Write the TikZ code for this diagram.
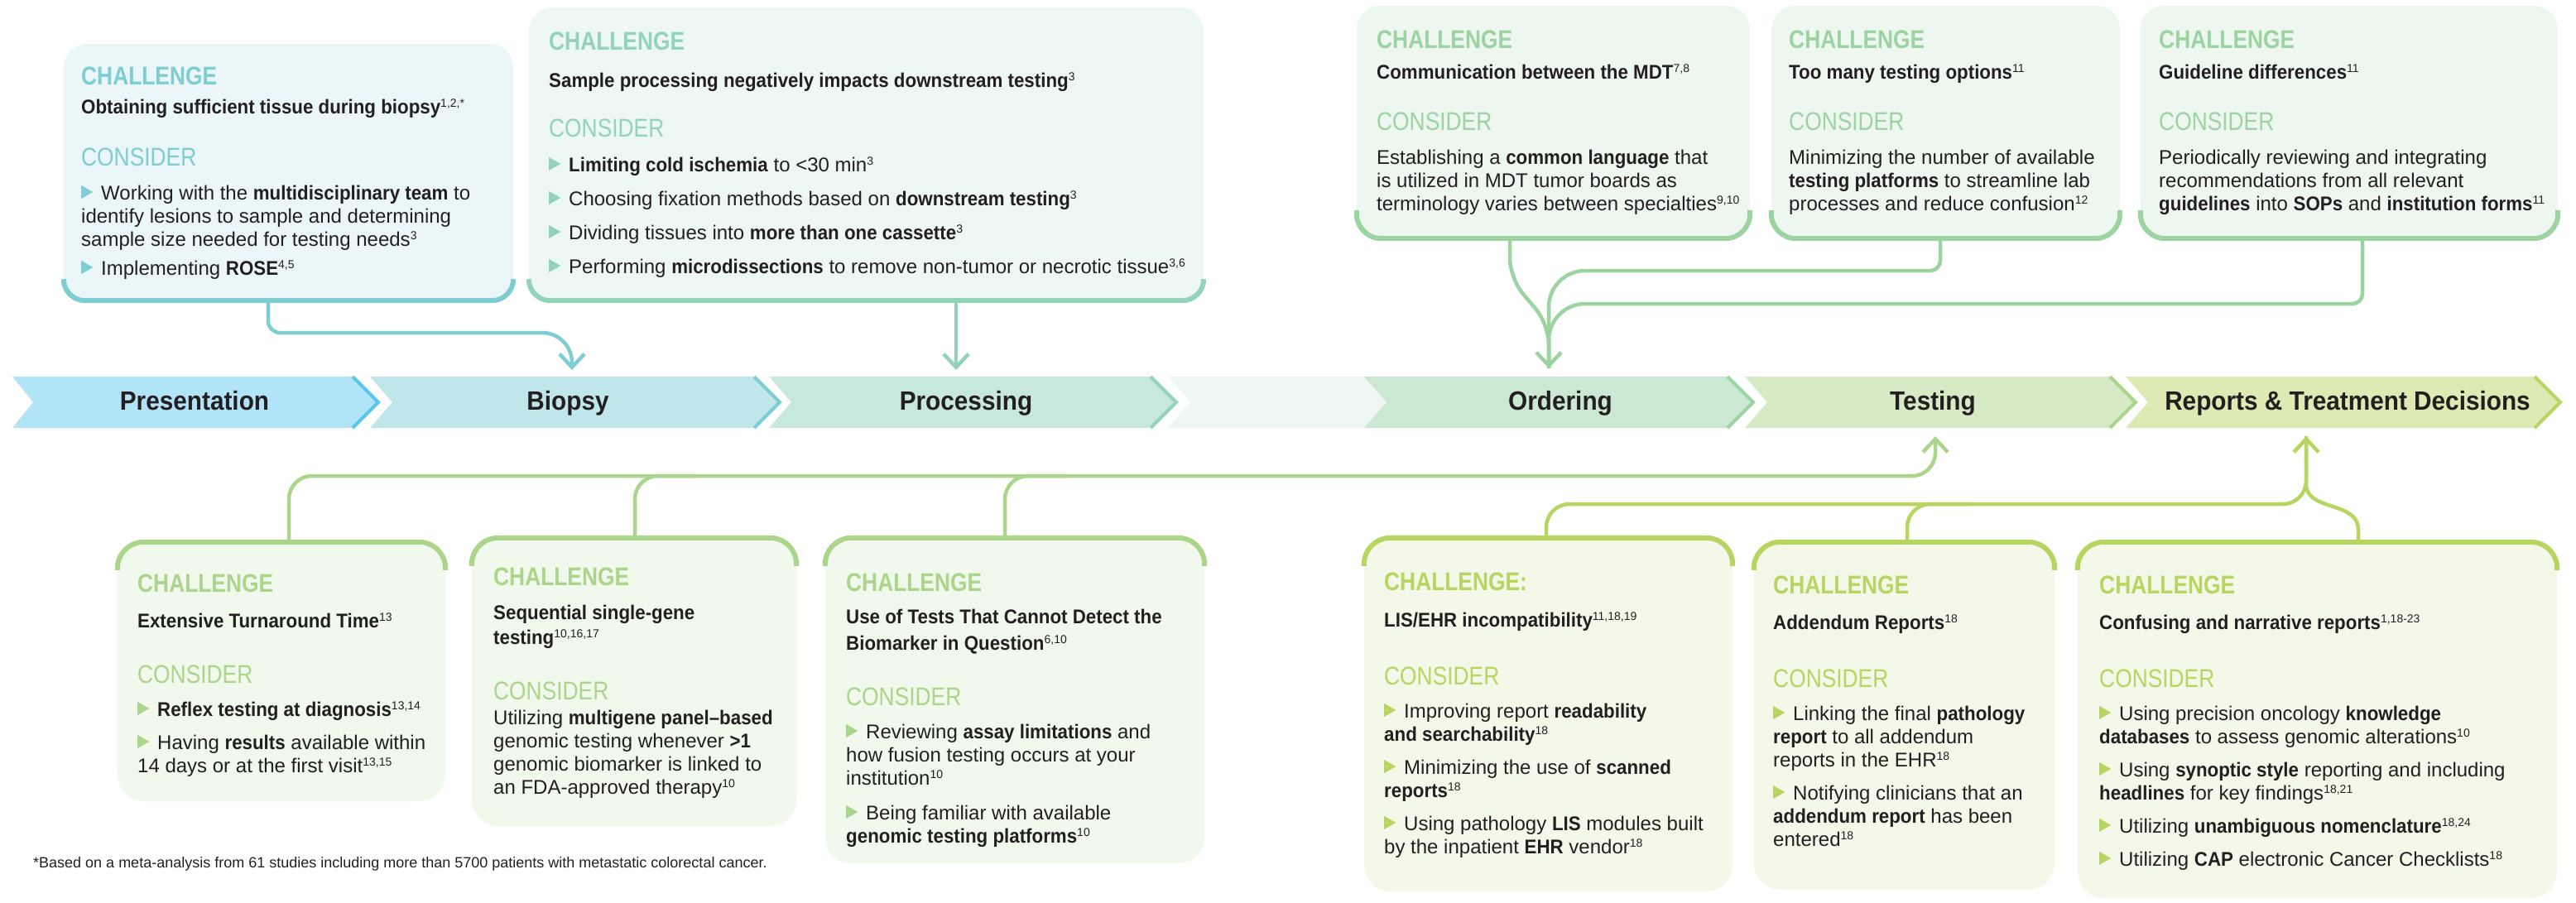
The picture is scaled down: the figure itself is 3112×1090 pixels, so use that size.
\documentclass[tikz,border=0pt]{standalone}
\usepackage{fontspec}
\setmainfont{Liberation Sans}[BoldFeatures={FakeStretch=0.93}]
\newfontfamily\hdfont{Liberation Sans}[FakeStretch=0.85]
\usepackage{tikz}
\usetikzlibrary{arrows.meta}

\definecolor{ink}{HTML}{231F20}
\definecolor{tealbg}{HTML}{EAF6F7}
\definecolor{tealln}{HTML}{7ECDD3}
\definecolor{mintbg}{HTML}{EDF7F3}
\definecolor{mintln}{HTML}{92D3B9}
\definecolor{grnbg}{HTML}{EEF7EF}
\definecolor{grnln}{HTML}{9BD4A1}
\definecolor{lgbg}{HTML}{F1F8EC}
\definecolor{lgln}{HTML}{AAD58B}
\definecolor{limebg}{HTML}{F3F8E8}
\definecolor{limeln}{HTML}{B7D661}
\definecolor{presbg}{HTML}{B2E4F7}
\definecolor{presln}{HTML}{5CC5EC}
\definecolor{biopbg}{HTML}{BFE6E9}
\definecolor{procbg}{HTML}{C7E8DD}
\definecolor{gapbg}{HTML}{EEF7F3}
\definecolor{ordbg}{HTML}{CBE8D3}
\definecolor{testbg}{HTML}{D6EAC5}
\definecolor{repbg}{HTML}{DEEAB3}

\newcommand{\rf}[1]{\raisebox{8pt}{\fontsize{14}{14}\mdseries\selectfont #1}}
\newcommand{\bul}[1]{\par\noindent\hangindent=24pt\hangafter=1\makebox[24pt][l]{\tikz[x=1pt,y=1pt,baseline=0pt]\fill[#1] (0,1)--(0,17)--(14,9)--cycle;}}
\newcommand{\blist}[2][12pt]{\parbox[t]{1000pt}{\fontsize{24}{28}\selectfont\raggedright\setlength{\parskip}{#1}#2}}

\begin{document}
\begin{tikzpicture}[x=1pt,y=-1pt,
  topbox/.style={inner sep=0pt, rounded corners=28pt},
  botbox/.style={inner sep=0pt, rounded corners=32pt},
  bord/.style={line width=6pt},
  conn/.style={line width=4.5pt},
  arrowend/.style={-{Straight Barb[length=16pt,width=30pt]}},
  chal/.style={anchor=base west, inner sep=0pt, font=\hdfont\bfseries\fontsize{31}{31}\selectfont},
  cons/.style={anchor=base west, inner sep=0pt, font=\hdfont\fontsize{31}{31}\selectfont},
  ttl/.style={anchor=base west, inner sep=0pt, text=ink, font=\bfseries\fontsize{24}{28}\selectfont},
  txt/.style={anchor=base west, inner sep=0pt, text=ink, font=\fontsize{24}{28}\selectfont},
  lab/.style={anchor=base, inner sep=0pt, text=ink, font=\bfseries\fontsize{32}{32}\selectfont}]
\useasboundingbox (0,0) rectangle (3112,1090);

\node[topbox, fill=tealbg, minimum width=543pt, minimum height=310pt] (tissue) at (348.5,208) {};
\node[topbox, fill=mintbg, minimum width=815pt, minimum height=354pt] (process) at (1046.5,186) {};
\node[topbox, fill=grnbg, minimum width=475pt, minimum height=281pt] (mdt) at (1876.5,147.5) {};
\node[topbox, fill=grnbg, minimum width=421pt, minimum height=281pt] (opts) at (2350.5,147.5) {};
\node[topbox, fill=grnbg, minimum width=504pt, minimum height=281pt] (guide) at (2838,147.5) {};

\draw[bord, tealln] ([yshift=26pt]tissue.south west) [rounded corners=26pt] -- (tissue.south west) -- (tissue.south east) -- ([yshift=26pt]tissue.south east);
\draw[bord, mintln] ([yshift=26pt]process.south west) [rounded corners=26pt] -- (process.south west) -- (process.south east) -- ([yshift=26pt]process.south east);
\draw[bord, grnln] ([yshift=34pt]mdt.south west) [rounded corners=30pt] -- (mdt.south west) -- (mdt.south east) -- ([yshift=34pt]mdt.south east);
\draw[bord, grnln] ([yshift=34pt]opts.south west) [rounded corners=30pt] -- (opts.south west) -- (opts.south east) -- ([yshift=34pt]opts.south east);
\draw[bord, grnln] ([yshift=34pt]guide.south west) [rounded corners=30pt] -- (guide.south west) -- (guide.south east) -- ([yshift=34pt]guide.south east);

\node[botbox, fill=lgbg, minimum width=396pt, minimum height=313pt] (tat) at (340,811.5) {};
\node[botbox, fill=lgbg, minimum width=392pt, minimum height=348pt] (seq) at (766,824) {};
\node[botbox, fill=lgbg, minimum width=458pt, minimum height=393pt] (tests) at (1226,846.5) {};
\node[botbox, fill=limebg, minimum width=445pt, minimum height=427pt] (lis) at (1870.5,863.5) {};
\node[botbox, fill=limebg, minimum width=363pt, minimum height=420pt] (add) at (2300.5,865) {};
\node[botbox, fill=limebg, minimum width=579pt, minimum height=430pt] (conf) at (2799.5,870) {};

\draw[bord, lgln] ([yshift=-34pt]tat.north west) [rounded corners=32pt] -- (tat.north west) -- (tat.north east) -- ([yshift=-34pt]tat.north east);
\draw[bord, lgln] ([yshift=-34pt]seq.north west) [rounded corners=32pt] -- (seq.north west) -- (seq.north east) -- ([yshift=-34pt]seq.north east);
\draw[bord, lgln] ([yshift=-34pt]tests.north west) [rounded corners=32pt] -- (tests.north west) -- (tests.north east) -- ([yshift=-34pt]tests.north east);
\draw[bord, limeln] ([yshift=-34pt]lis.north west) [rounded corners=32pt] -- (lis.north west) -- (lis.north east) -- ([yshift=-34pt]lis.north east);
\draw[bord, limeln] ([yshift=-34pt]add.north west) [rounded corners=32pt] -- (add.north west) -- (add.north east) -- ([yshift=-34pt]add.north east);
\draw[bord, limeln] ([yshift=-34pt]conf.north west) [rounded corners=32pt] -- (conf.north west) -- (conf.north east) -- ([yshift=-34pt]conf.north east);

\node[chal, text=tealln] (tissuech) at (98,102) {CHALLENGE};
\node[ttl] (tissuett) at (98,137) {Obtaining sufficient tissue during biopsy\rf{1,2,*}};
\node[cons, text=tealln] (tissueco) at (98,200) {CONSIDER};
\node[txt] (tissuetx) at (98,241) {\blist[7pt]{\bul{tealln}Working with the \textbf{multidisciplinary team} to\\identify lesions to sample and determining\\sample size needed for testing needs\rf{3}\bul{tealln}Implementing \textbf{ROSE}\rf{4,5}}};

\node[chal, text=mintln] (procch) at (663,60) {CHALLENGE};
\node[ttl] (proctt) at (663,105) {Sample processing negatively impacts downstream testing\rf{3}};
\node[cons, text=mintln] (procco) at (663,165) {CONSIDER};
\node[txt] (proctx) at (663,207) {\blist[13pt]{\bul{mintln}\textbf{Limiting cold ischemia} to <30 min\rf{3}\bul{mintln}Choosing fixation methods based on \textbf{downstream testing}\rf{3}\bul{mintln}Dividing tissues into \textbf{more than one cassette}\rf{3}\bul{mintln}Performing \textbf{microdissections} to remove non-tumor or necrotic tissue\rf{3,6}}};

\node[chal, text=grnln] (mdtch) at (1663,58) {CHALLENGE};
\node[ttl] (mdttt) at (1663,95) {Communication between the MDT\rf{7,8}};
\node[cons, text=grnln] (mdtco) at (1663,157) {CONSIDER};
\node[txt] (mdttx) at (1663,198) {\blist{Establishing a \textbf{common language} that\\is utilized in MDT tumor boards as\\terminology varies between specialties\rf{9,10}}};

\node[chal, text=grnln] (optsch) at (2161,58) {CHALLENGE};
\node[ttl] (optstt) at (2161,95) {Too many testing options\rf{11}};
\node[cons, text=grnln] (optsco) at (2161,157) {CONSIDER};
\node[txt] (optstx) at (2161,198) {\blist{Minimizing the number of available\\\textbf{testing platforms} to streamline lab\\processes and reduce confusion\rf{12}}};

\node[chal, text=grnln] (guidech) at (2608,58) {CHALLENGE};
\node[ttl] (guidett) at (2608,95) {Guideline differences\rf{11}};
\node[cons, text=grnln] (guideco) at (2608,157) {CONSIDER};
\node[txt] (guidetx) at (2608,198) {\blist{Periodically reviewing and integrating\\recommendations from all relevant\\\textbf{guidelines} into \textbf{SOPs} and \textbf{institution forms}\rf{11}}};

\node[chal, text=lgln] (tatch) at (166,715) {CHALLENGE};
\node[ttl] (tattt) at (166,758) {Extensive Turnaround Time\rf{13}};
\node[cons, text=lgln] (tatco) at (166,825) {CONSIDER};
\node[txt] (tattx) at (166,865) {\blist{\bul{lgln}\textbf{Reflex testing at diagnosis}\rf{13,14}\bul{lgln}Having \textbf{results} available within\\14 days or at the first visit\rf{13,15}}};

\node[chal, text=lgln] (seqch) at (596,707) {CHALLENGE};
\node[ttl] (seqtt) at (596,748) {\blist{Sequential single-gene\\[2pt]testing\rf{10,16,17}}};
\node[cons, text=lgln] (seqco) at (596,845) {CONSIDER};
\node[txt] (seqtx) at (596,875) {\blist{Utilizing \textbf{multigene panel–based}\\genomic testing whenever \textbf{>1}\\genomic biomarker is linked to\\an FDA-approved therapy\rf{10}}};

\node[chal, text=lgln] (testsch) at (1022,714) {CHALLENGE};
\node[ttl] (teststt) at (1022,753) {\blist{Use of Tests That Cannot Detect the\\[4pt]Biomarker in Question\rf{6,10}}};
\node[cons, text=lgln] (testsco) at (1022,852) {CONSIDER};
\node[txt] (teststx) at (1022,892) {\blist[14pt]{\bul{lgln}Reviewing \textbf{assay limitations} and\\how fusion testing occurs at your\\institution\rf{10}\bul{lgln}Being familiar with available\\\textbf{genomic testing platforms}\rf{10}}};

\node[chal, text=limeln] (lisch) at (1672,713) {CHALLENGE:};
\node[ttl] (listt) at (1672,757) {LIS/EHR incompatibility\rf{11,18,19}};
\node[cons, text=limeln] (lisco) at (1672,827) {CONSIDER};
\node[txt] (listx) at (1672,867) {\blist{\bul{limeln}Improving report \textbf{readability}\\\textbf{and searchability}\rf{18}\bul{limeln}Minimizing the use of \textbf{scanned}\\\textbf{reports}\rf{18}\bul{limeln}Using pathology \textbf{LIS} modules built\\by the inpatient \textbf{EHR} vendor\rf{18}}};

\node[chal, text=limeln] (addch) at (2142,717) {CHALLENGE};
\node[ttl] (addtt) at (2142,760) {Addendum Reports\rf{18}};
\node[cons, text=limeln] (addco) at (2142,830) {CONSIDER};
\node[txt] (addtx) at (2142,870) {\blist{\bul{limeln}Linking the final \textbf{pathology}\\\textbf{report} to all addendum\\reports in the EHR\rf{18}\bul{limeln}Notifying clinicians that an\\\textbf{addendum report} has been\\entered\rf{18}}};

\node[chal, text=limeln] (confch) at (2536,717) {CHALLENGE};
\node[ttl] (conftt) at (2536,760) {Confusing and narrative reports\rf{1,18-23}};
\node[cons, text=limeln] (confco) at (2536,830) {CONSIDER};
\node[txt] (conftx) at (2536,870) {\blist{\bul{limeln}Using precision oncology \textbf{knowledge}\\\textbf{databases} to assess genomic alterations\rf{10}\bul{limeln}Using \textbf{synoptic style} reporting and including\\\textbf{headlines} for key findings\rf{18,21}\bul{limeln}Utilizing \textbf{unambiguous nomenclature}\rf{18,24}\bul{limeln}Utilizing \textbf{CAP} electronic Cancer Checklists\rf{18}}};

\node[txt, font=\fontsize{18}{22}\selectfont] (note) at (40,1048) {*Based on a meta-analysis from 61 studies including more than 5700 patients with metastatic colorectal cancer.};

\fill[presbg] (15,455) -- (428,455) -- (459,486) -- (428,517) -- (15,517) -- (40,486) -- cycle;
\draw[presln, line width=4pt] (426,455) -- (457,486) -- (426,517);
\fill[biopbg] (447,455) -- (913,455) -- (944,486) -- (913,517) -- (447,517) -- (474,486) -- cycle;
\draw[tealln, line width=4pt] (911,455) -- (942,486) -- (911,517);
\fill[procbg] (929,455) -- (1392,455) -- (1423,486) -- (1392,517) -- (929,517) -- (956,486) -- cycle;
\draw[mintln, line width=4pt] (1390,455) -- (1421,486) -- (1390,517);
\fill[gapbg] (1411,455) -- (1648,455) -- (1675,486) -- (1648,517) -- (1411,517) -- (1438,486) -- cycle;
\fill[ordbg] (1648,455) -- (2089,455) -- (2120,486) -- (2089,517) -- (1648,517) -- (1675,486) -- cycle;
\draw[grnln, line width=4pt] (2087,455) -- (2118,486) -- (2087,517);
\fill[testbg] (2108,455) -- (2551,455) -- (2582,486) -- (2551,517) -- (2108,517) -- (2135,486) -- cycle;
\draw[lgln, line width=4pt] (2549,455) -- (2580,486) -- (2549,517);
\fill[repbg] (2568,455) -- (3064,455) -- (3095,486) -- (3064,517) -- (2568,517) -- (2595,486) -- cycle;
\draw[limeln, line width=4pt] (3062,455) -- (3093,486) -- (3062,517);

\node[lab] (pres) at (235,495) {Presentation};
\node[lab] (biop) at (686,495) {Biopsy};
\node[lab] (proc) at (1167,495) {Processing};
\node[lab] (ord) at (1885,495) {Ordering};
\node[lab] (test) at (2335,495) {Testing};
\node[lab] (rep) at (2836,495) {Reports \& Treatment Decisions};

\coordinate (biopin) at (691,447);
\coordinate (procin) at (1155,447);
\coordinate (ordin) at (1871,445);
\coordinate (testin) at (2338,527);
\coordinate (repin) at (2786,527);

\draw[conn, tealln, arrowend] ([xshift=-24.5pt]tissue.south) [rounded corners=14pt] -- (324,402) [rounded corners=36pt] -- (691,402) -- (biopin);
\draw[conn, mintln, arrowend] ([xshift=108.5pt]process.south) -- (procin);
\draw[conn, grnln] ([xshift=-6.5pt]opts.south) [rounded corners=12pt] -- (2344,327) [rounded corners=44pt] -- (1871,327) -- (ordin);
\draw[conn, grnln] ([xshift=16pt]guide.south) [rounded corners=12pt] -- (2854,367) [rounded corners=44pt] -- (1871,367) -- (ordin);
\draw[conn, grnln, arrowend] ([xshift=-52.5pt]mdt.south) [rounded corners=24pt] -- (1824,336) -- (1871,392) -- (ordin);

\draw[conn, lgln, arrowend] ([xshift=9pt]tat.north) [rounded corners=28pt] -- (349,575) -- (2338,575) -- (testin);
\draw[conn, lgln] ([xshift=1pt]seq.north) [rounded corners=28pt] -- (767,575) -- (840,575);
\draw[conn, lgln] ([xshift=-12pt]tests.north) [rounded corners=28pt] -- (1214,575) -- (1290,575);
\draw[conn, limeln, arrowend] ([xshift=-2.5pt]lis.north) [rounded corners=28pt] -- (1868,609) -- (2786,609) -- (repin);
\draw[conn, limeln] ([xshift=3.5pt]add.north) [rounded corners=28pt] -- (2304,609) -- (2380,609);
\draw[conn, limeln] ([xshift=49.5pt]conf.north) -- (2849,640) .. controls (2849,605) and (2786,618) .. (2786,585) -- (repin);
\end{tikzpicture}
\end{document}
